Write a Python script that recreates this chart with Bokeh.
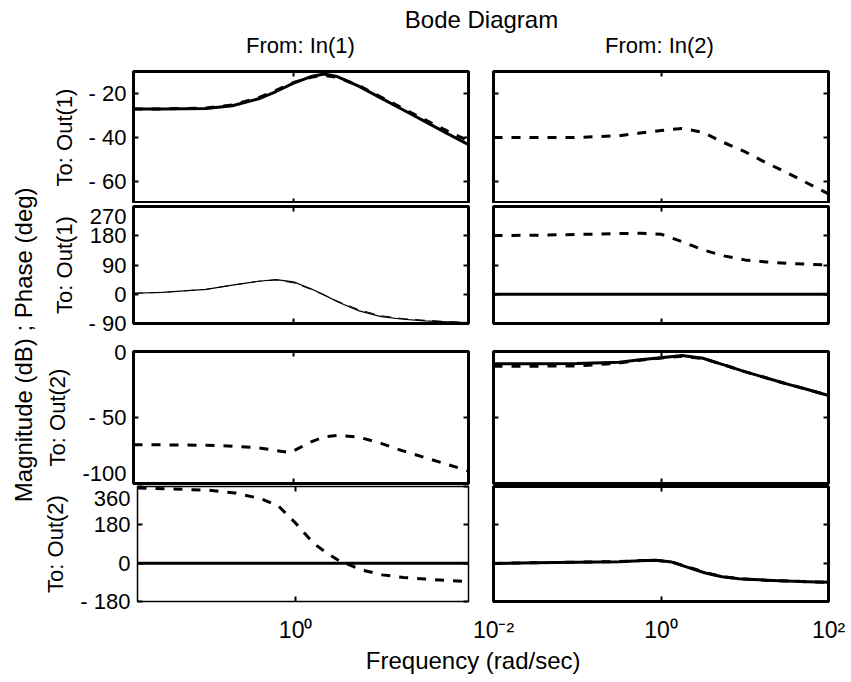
import math
from bokeh.plotting import figure
from bokeh.models import FixedTicker, LinearAxis, LogAxis, Range1d
from bokeh.layouts import column, row
from bokeh.core.properties import value
from bokeh.embed import file_html
from bokeh.resources import INLINE

# ---------------- data ----------------
title_text = "Bode Diagram"
input_labels = ["From: In(1)", "From: In(2)"]
output_labels = ["To: Out(1)", "To: Out(2)"]
x_axis_text = "Frequency  (rad/sec)"
y_axis_text = "Magnitude (dB) ;  Phase (deg)"

# log10 of frequency (rad/sec)
logw_left = [-1.83, -1.5, -1.0, -0.7, -0.4, -0.2, 0.0, 0.2, 0.35, 0.5, 0.75, 1.0, 1.25, 1.5, 1.75, 2.0]
logw_left_b = [-1.83, -1.5, -1.0, -0.7, -0.4, -0.2, -0.04, 0.2, 0.35, 0.5, 0.75, 1.0, 1.25, 1.5, 1.75, 2.0]
logw_right = [-2.0, -1.5, -1.0, -0.5, -0.25, 0.0, 0.25, 0.5, 0.75, 1.0, 1.25, 1.5, 1.75, 2.0]
logw_right_c = [-2.0, -1.5, -1.0, -0.5, -0.25, -0.07, 0.13, 0.33, 0.53, 0.73, 0.93, 1.25, 1.5, 1.75, 2.0]
logw_flat_left = [-1.83, 2.0]
logw_flat_right = [-2.0, 2.0]

# Out(1) <- In(1)
mag11_solid = [-27.1, -27.1, -26.8, -25.6, -22.4, -19.1, -15.3, -12.3, -11.1, -12.3, -16.8, -22.1, -27.4, -32.7, -38.0, -43.3]
mag11_dash = [-27.0, -27.0, -26.6, -25.2, -21.9, -18.6, -15.0, -12.6, -11.8, -12.6, -16.5, -21.6, -26.8, -31.9, -36.9, -41.5]
phase11_solid = [3, 6, 15, 28, 40, 45, 38, 17, -2, -23, -51, -69, -77, -82, -85, -87]
phase11_dash = [3, 6, 15, 28, 40, 44, 35, 15, -3, -21, -48, -66, -75, -80, -84, -87]
# Out(1) <- In(2)
mag12_dash = [-40.0, -40.0, -40.0, -39.2, -38.0, -36.8, -35.9, -37.6, -42.3, -46.4, -51.4, -55.9, -60.8, -65.6]
phase12_dash = [180.7, 181.7, 183.8, 186.8, 187.8, 184.8, 162.0, 136.5, 118.0, 105.7, 99.5, 95.4, 92.3, 90.3]
phase12_solid = [0, 0]
# Out(2) <- In(1)
mag21_dash = [-70.7, -70.7, -71.0, -71.7, -73.0, -75.0, -76.6, -68.5, -64.7, -63.6, -64.9, -69.6, -75.3, -80.3, -85.4, -90.5]
phase21_dash = [352.7, 349.6, 342.0, 329.8, 302.3, 268.8, 187.8, 96.2, 50.4, 12.4, -30.2, -55.0, -66.9, -74.6, -80.6, -87.0]
phase21_solid = [0, 0]
# Out(2) <- In(2)
mag22_solid = [-9.3, -9.3, -9.1, -8.1, -6.3, -4.8, -3.0, -5.1, -10.1, -15.2, -19.9, -24.5, -28.8, -33.3]
mag22_dash = [-11.1, -11.1, -10.9, -8.8, -6.6, -5.0, -3.6, -5.3, -10.1, -15.2, -19.9, -24.5, -28.8, -33.3]
phase22_solid = [-1, 2, 4.5, 6.4, 11, 14, 5, -21, -46, -64, -73, -80, -84, -87, -90]
phase22_dash = [-1, 2, 5, 7.5, 12, 14, 6, -19, -44, -63, -73, -80, -84, -87, -90]

# axes
xrange_left = (10 ** -1.83, 100.0)
xrange_right = (0.01, 100.0)
xticks_left = [1]
xticks_right = [0.01, 1, 100]
xtick_labels = {0.01: "10⁻²", 1: "10⁰", 100: "10²"}

mag1_range = (-70, -10)
mag1_ticks = [-60, -40, -20]
mag1_labels = {-60: "- 60", -40: "- 40", -20: "- 20"}
phase1_range = (-90, 270)
phase1_ticks = [-90, 0, 90, 180, 270]
phase1_labels = {-90: "- 90", 0: "0", 90: "90", 180: "180", 270: "270"}
mag2_range = (-100, 0)
mag2_ticks = [-100, -50, 0]
mag2_labels = {-100: "-100", -50: "- 50", 0: "0"}
phase2_range = (-180, 360)
phase2_ticks = [-180, 0, 180, 360]
phase2_labels = {-180: "- 180", 0: "0", 180: "180", 360: "360"}

# ---------------- style / layout ----------------
FONT = "Liberation Sans"
TOTAL_W = 849
STRIP_LEFT_W = 40
COLS = [(430, 93, 2), (379, 23, 21)]            # width, min_border_left, min_border_right
ROWS = [(139, 7, 0), (134, 3, 14), (148, 14, 2), (160, 1, 42)]  # height, top, bottom
# edge tick labels are nudged inward (pixels, + = down), as the original does
LABEL_NUDGE = [{}, {270: 10}, {-100: -7, 0: 1}, {360: 12}]

SOLID = dict(line_color="black", line_width=3, line_join="round")
DASH = dict(line_color="black", line_width=3, line_dash="9 9", line_join="round")
THIN_SOLID = dict(line_color="black", line_width=1.2, line_join="round")
THIN_DASH = dict(line_color="black", line_width=1.0, line_dash="10 7", line_join="round")


def marks_axis(ax):
    ax.axis_line_color = None
    ax.major_tick_in = 5
    ax.major_tick_out = 0
    ax.minor_tick_in = 0
    ax.minor_tick_out = 0
    ax.major_tick_line_width = 2
    ax.major_tick_line_color = "black"
    ax.major_label_text_font_size = "1px"
    ax.major_label_text_alpha = 0
    ax.major_label_standoff = 0


def labels_axis(ax, overrides, font_size, standoff):
    ax.axis_line_color = None
    ax.major_tick_in = 0
    ax.major_tick_out = 0
    ax.minor_tick_in = 0
    ax.minor_tick_out = 0
    ax.major_tick_line_color = None
    ax.major_label_overrides = overrides
    ax.major_label_text_font = FONT
    ax.major_label_text_font_size = font_size
    ax.major_label_text_color = "black"
    ax.major_label_standoff = standoff


def make_panel(ci, ri, yrange, yticks, ylabels, ylabel, lines, outline_w=3):
    W, mbl, mbr = COLS[ci]
    H, mbt, mbb = ROWS[ri]
    frame_h = H - mbt - mbb
    xr = xrange_left if ci == 0 else xrange_right
    xt = xticks_left if ci == 0 else xticks_right
    p = figure(width=W, height=H, x_axis_type="log",
               x_range=Range1d(*xr), y_range=Range1d(*yrange),
               min_border_left=mbl, min_border_right=mbr,
               min_border_top=mbt, min_border_bottom=mbb,
               x_axis_location=None, y_axis_location=None,
               toolbar_location=None, output_backend="svg")
    p.grid.visible = False
    p.outline_line_color = "black"
    p.outline_line_width = outline_w
    p.outline_line_alpha = 1
    p.background_fill_color = "white"
    p.border_fill_color = "white"

    # tick marks on all four sides (pointing inward)
    for side, cls, ticks in (("left", LinearAxis, yticks), ("right", LinearAxis, yticks),
                             ("above", LogAxis, xt), ("below", LogAxis, xt)):
        ax = cls(ticker=FixedTicker(ticks=ticks))
        marks_axis(ax)
        p.add_layout(ax, side)

    # y tick labels (left column only)
    if ci == 0:
        span = yrange[1] - yrange[0]
        nudge = LABEL_NUDGE[ri]
        pos, over = [], {}
        for t in yticks:
            v = t - nudge.get(t, 0) * span / frame_h
            pos.append(v)
            over[v] = ylabels[t]
        la = LinearAxis(ticker=FixedTicker(ticks=pos))
        labels_axis(la, over, "22px", 7)
        la.axis_label = ylabel
        la.axis_label_text_font = FONT
        la.axis_label_text_font_size = "22px"
        la.axis_label_text_font_style = "normal"
        la.axis_label_text_color = "black"
        la.axis_label_standoff = 9
        p.add_layout(la, "left")

    # x tick labels (bottom row only)
    if ri == 3:
        lb = LogAxis(ticker=FixedTicker(ticks=xt))
        labels_axis(lb, {k: v for k, v in xtick_labels.items() if k in xt}, "23px", 15)
        p.add_layout(lb, "below")

    for logw, vals, st in lines:
        p.line(x=[10 ** v for v in logw], y=vals, **st)
    return p


def text_strip(W, H, texts):
    s = figure(width=W, height=H, x_range=Range1d(0, W), y_range=Range1d(H, 0),
               min_border_left=0, min_border_right=0, min_border_top=0, min_border_bottom=0,
               x_axis_location=None, y_axis_location=None, title=None,
               toolbar_location=None, output_backend="svg")
    s.grid.visible = False
    s.outline_line_color = None
    s.background_fill_color = "white"
    s.border_fill_color = "white"
    for (x, y, t, size, angle, baseline) in texts:
        s.text(x=[x], y=[y], text=[t], text_font=value(FONT), text_font_size=size,
               text_align="center", text_baseline=baseline, angle=angle, text_color="black")
    return s


p11m = make_panel(0, 0, mag1_range, mag1_ticks, mag1_labels, output_labels[0],
                  [(logw_left, mag11_dash, DASH), (logw_left, mag11_solid, SOLID)])
p12m = make_panel(1, 0, mag1_range, mag1_ticks, None, None,
                  [(logw_right, mag12_dash, DASH)])
p11p = make_panel(0, 1, phase1_range, phase1_ticks, phase1_labels, output_labels[0],
                  [(logw_left, phase11_dash, THIN_DASH), (logw_left, phase11_solid, THIN_SOLID)])
p12p = make_panel(1, 1, phase1_range, phase1_ticks, None, None,
                  [(logw_right, phase12_dash, DASH), (logw_flat_right, phase12_solid, SOLID)])
p21m = make_panel(0, 2, mag2_range, mag2_ticks, mag2_labels, output_labels[1],
                  [(logw_left_b, mag21_dash, DASH)])
p22m = make_panel(1, 2, mag2_range, mag2_ticks, None, None,
                  [(logw_right, mag22_dash, DASH), (logw_right, mag22_solid, SOLID)])
p21p = make_panel(0, 3, phase2_range, phase2_ticks, phase2_labels, output_labels[1],
                  [(logw_left, phase21_dash, DASH), (logw_flat_left, phase21_solid, SOLID)],
                  outline_w=1.5)
p22p = make_panel(1, 3, phase2_range, phase2_ticks, None, None,
                  [(logw_right_c, phase22_dash, DASH), (logw_right_c, phase22_solid, SOLID)])

# (the text glyphs render about 8px below their alphabetic anchor here)
top = text_strip(TOTAL_W, 64, [
    (481, 19, title_text, "24px", 0, "alphabetic"),
    (300, 44.5, input_labels[0], "22px", 0, "alphabetic"),
    (659, 44.5, input_labels[1], "22px", 0, "alphabetic"),
])
left_strip = text_strip(STRIP_LEFT_W, 581, [
    (23, 277, y_axis_text, "24px", math.pi / 2, "middle"),
])
bottom = text_strip(TOTAL_W, 31, [
    (476, 15, x_axis_text, "24px", 0, "alphabetic"),
])

grid = column(row(p11m, p12m), row(p11p, p12p), row(p21m, p22m), row(p21p, p22p))
layout = column(top, row(left_strip, grid), bottom)

open("out.html", "w").write(file_html(layout, INLINE))
